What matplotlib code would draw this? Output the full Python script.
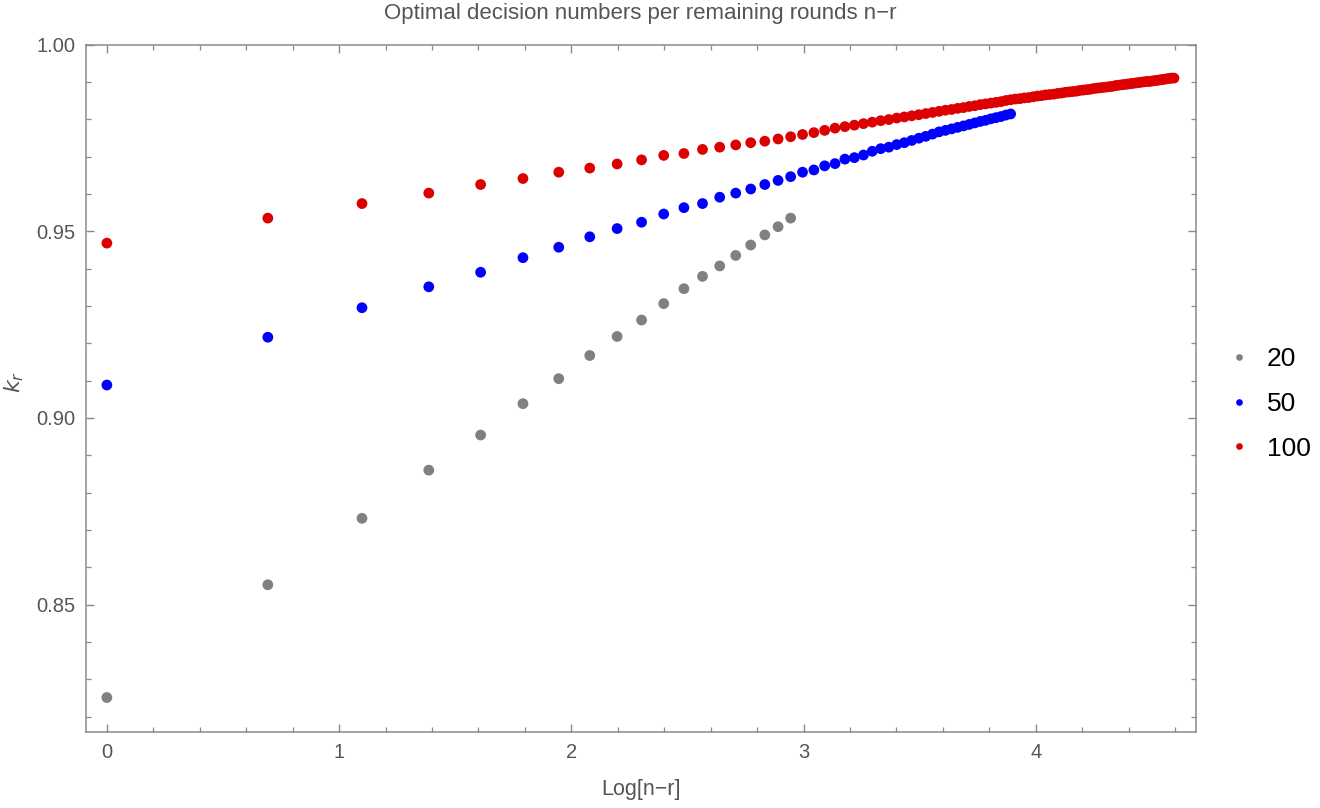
import numpy as np
import matplotlib
matplotlib.use("Agg")
import matplotlib.pyplot as plt
from matplotlib.lines import Line2D
from matplotlib.ticker import MultipleLocator, FixedLocator

# ---- data: k_r per remaining rounds n-r (x = Log[n-r]) ----
n20_k = [0.8251, 0.8553, 0.8731, 0.8860, 0.8954, 0.9038, 0.9105, 0.9167, 0.9218, 0.9262,
         0.9306, 0.9346, 0.9379, 0.9407, 0.9435, 0.9463, 0.9490, 0.9512, 0.9535]

n50_k = [0.9088, 0.9216, 0.9295, 0.9351, 0.9390, 0.9429, 0.9457, 0.9485, 0.9507, 0.9524,
         0.9546, 0.9563, 0.9574, 0.9591, 0.9602, 0.9613, 0.9625, 0.9636, 0.9646, 0.9658,
         0.9664, 0.9675, 0.9681, 0.9693, 0.9697, 0.9704, 0.9714, 0.9721, 0.9725, 0.9732,
         0.9737, 0.9743, 0.9749, 0.9754, 0.9760, 0.9766, 0.9770, 0.9774, 0.9778, 0.9782,
         0.9786, 0.9790, 0.9794, 0.9797, 0.9801, 0.9804, 0.9807, 0.9811, 0.9814]

n100_k = [0.9468, 0.9535, 0.9574, 0.9602, 0.9625, 0.9641, 0.9658, 0.9669, 0.9680, 0.9691,
          0.9703, 0.9708, 0.9719, 0.9725, 0.9731, 0.9737, 0.9741, 0.9747, 0.9753, 0.9759,
          0.9764, 0.9770, 0.9776, 0.9780, 0.9784, 0.9788, 0.9792, 0.9796, 0.9799, 0.9803,
          0.9806, 0.9809, 0.9812, 0.9815, 0.9818, 0.9821, 0.9824, 0.9826, 0.9829, 0.9831,
          0.9834, 0.9836, 0.9839, 0.9841, 0.9843, 0.9845, 0.9847, 0.9850, 0.9852, 0.9854,
          0.9855, 0.9857, 0.9858, 0.9860, 0.9862, 0.9863, 0.9865, 0.9866, 0.9867, 0.9869,
          0.9870, 0.9872, 0.9873, 0.9874, 0.9875, 0.9877, 0.9878, 0.9879, 0.9880, 0.9882,
          0.9883, 0.9884, 0.9885, 0.9886, 0.9887, 0.9888, 0.9890, 0.9891, 0.9892, 0.9893,
          0.9894, 0.9895, 0.9896, 0.9897, 0.9898, 0.9899, 0.9900, 0.9901, 0.9901, 0.9902,
          0.9903, 0.9904, 0.9905, 0.9906, 0.9907, 0.9908, 0.9909, 0.9910, 0.9910]

series_labels = ["20", "50", "100"]
series_colors = ["#808080", "#0000FF", "#DD0000"]
x_ticks = [0, 1, 2, 3, 4]
y_ticks = [0.85, 0.90, 0.95, 1.00]

plt.rcParams['font.family'] = ['Liberation Sans', 'DejaVu Sans']

fig = plt.figure(figsize=(13.2, 8.08), dpi=100)
ax = fig.add_axes([85.5/1320, 1-731.5/808, (1196-85.5)/1320, (731.5-44.5)/808])

series = [n20_k, n50_k, n100_k]
for vals, lab, col in zip(series, series_labels, series_colors):
    m = np.arange(1, len(vals)+1)
    ax.scatter(np.log(m), vals, s=60, color=col, edgecolors='none', label=lab, zorder=3)

ax.set_xlim(-0.092, 4.690)
ax.set_ylim(0.816, 1.0)

ax.xaxis.set_major_locator(FixedLocator(x_ticks))
ax.xaxis.set_minor_locator(MultipleLocator(0.2))
ax.yaxis.set_major_locator(FixedLocator(y_ticks))
ax.yaxis.set_minor_locator(MultipleLocator(0.01))
ax.set_xticklabels([str(t) for t in x_ticks])
ax.set_yticklabels([f"{t:.2f}" for t in y_ticks])

frame_col = "#8a8a8a"
lab_col = "#555555"
for sp in ax.spines.values():
    sp.set_color(frame_col)
    sp.set_linewidth(1.1)
ax.tick_params(which='both', direction='in', top=True, right=True, color=frame_col,
               labelcolor=lab_col, labelsize=14.5)
ax.tick_params(which='major', length=6, width=1.0)
ax.tick_params(which='minor', length=3.5, width=0.9)
ax.tick_params(axis='x', which='major', pad=8)
ax.tick_params(axis='y', which='major', pad=7)

ax_cx = (85.5 + 1196) / 2 / 1320
fig.text(ax_cx, 1-790/808, "Log[n\u2212r]", ha='center', va='center',
         fontsize=15.5, color=lab_col)
fig.text(14/1320, 1-382/808, r"$k_r$", ha='center', va='center',
         fontsize=16, color=lab_col, rotation=90)
fig.text(ax_cx, 1-13/808, "Optimal decision numbers per remaining rounds n\u2212r",
         ha='center', va='center', fontsize=16, color=lab_col)

handles = [Line2D([], [], linestyle='none', marker='o', markersize=4.8,
                  markerfacecolor=c, markeredgecolor='none') for c in series_colors]
ax.legend(handles, series_labels, loc='center left',
          bbox_to_anchor=(1226/1320, 1-404/808), bbox_transform=fig.transFigure,
          frameon=False, fontsize=19, handlelength=1.0, handletextpad=0.55,
          labelspacing=0.78, borderpad=0, borderaxespad=0)

fig.savefig("out.png", dpi=100)
